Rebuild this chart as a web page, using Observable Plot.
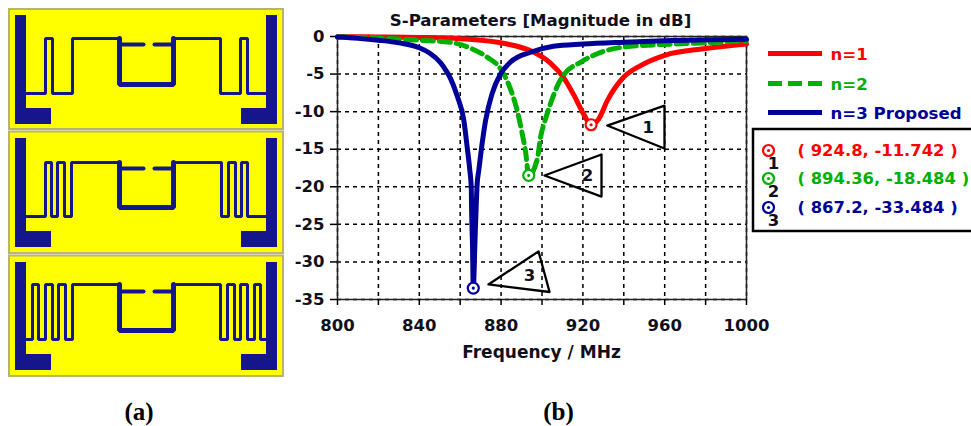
<!DOCTYPE html>
<html><head><meta charset="utf-8">
<script src="https://cdn.jsdelivr.net/npm/d3@7"></script>
<script src="https://cdn.jsdelivr.net/npm/@observablehq/plot@0.6"></script>
<style>
html,body{margin:0;padding:0;background:#fff}
#wrap{position:relative;width:971px;height:426px;overflow:hidden}
#wrap svg{position:absolute;left:0;top:0;background:transparent;max-width:none}
</style></head><body><div id="wrap"></div>
<script>
const FONT = "'DejaVu Sans', sans-serif";
const RED = "#ff0000", GREEN = "#00b000", BLUE = "#000099", INK = "#10101c";

// S-parameter curves: [MHz], [dB]
const freq1 = [800,820,840,860,883,896,904,910.4,915.6,920.5,924,927.7,932,940,948,960,980,1000];
const db1   = [-0.02,-0.05,-0.12,-0.3,-1,-2.1,-3.5,-5.4,-7.8,-10.4,-11.742,-11,-8.5,-5.4,-3.9,-2.5,-1.6,-1];
const freq2 = [800,820,840,855,865.9,873.2,879.7,884.6,887.9,890,892,893.5,897.7,899.3,901.7,905,908,910.4,919,927,940,960,980,1000];
const db2   = [-0.05,-0.2,-0.5,-0.76,-1.65,-2.75,-4.3,-7,-9.9,-12.5,-15.4,-18.484,-16.3,-13.4,-11,-8.3,-6.3,-5.2,-3.4,-2.3,-1.4,-1.05,-0.85,-0.55];
const freq3 = [800,810,820,830,840,845,850.4,853,855.3,858.5,861.8,863.4,864.7,865.4,865.6,866,866.4,867.2,867.7,868.3,869.1,870.7,872.4,875.6,879.7,884.6,894.4,905.6,920,940,960,1000];
const db3   = [-0.08,-0.25,-0.5,-0.85,-1.5,-2.2,-3.5,-4.5,-5.6,-7.9,-11.2,-14.7,-17.8,-20,-23.5,-27.5,-33.484,-27.5,-23.5,-19.6,-17.8,-14.3,-11.2,-7.6,-5,-3.4,-2.1,-1.3,-1,-0.75,-0.55,-0.35];

const peakFreq = [924, 893.5, 866.4];
const peakDb   = [-11.742, -18.484, -33.484];
const seriesNames = ["n=1", "n=2", "n=3 Proposed"];
const seriesColors = [RED, GREEN, BLUE];
const readouts = ["( 924.8, -11.742 )", "( 894.36, -18.484 )", "( 867.2, -33.484 )"];

// Callout triangles in chart units
const calloutLabels = ["1", "2", "3"];
const calloutFreq = [[931.9,959.9,959.9],[901.2,929.1,929.1],[873.8,898.3,903.7]];
const calloutDb   = [[-11.85,-9.2,-14.9],[-18.5,-15.7,-21.3],[-33,-28.6,-34]];
const calloutTextFreq = [952, 922.2, 893.9];
const calloutTextDb   = [-12.1, -18.5, -31.8];

const xGrid = d3.range(800, 1001, 20);
const yGrid = d3.range(-35, 1, 5);

const rows = (xs, ys) => xs.map((x, i) => ({x, y: ys[i]}));
const trianglePts = calloutFreq.flatMap((f, k) => f.map((x, i) => ({k, x, y: calloutDb[k][i]})));

const main = Plot.plot({
  width: 971, height: 426,
  marginLeft: 337, marginRight: 225, marginTop: 36, marginBottom: 127,
  style: {fontFamily: FONT, background: "transparent"},
  x: {domain: [800, 1000]},
  y: {domain: [-35, 0]},
  marks: [
    Plot.gridX(xGrid, {stroke: "#000", strokeOpacity: 1, strokeWidth: 1.5, strokeDasharray: "4,4"}),
    Plot.gridY(yGrid, {stroke: "#000", strokeOpacity: 1, strokeWidth: 1.5, strokeDasharray: "4,4"}),
    Plot.frame({stroke: "#222", strokeWidth: 1.5}),
    Plot.axisX(xGrid, {anchor: "bottom", label: null, tickSize: 6, tickPadding: 14, fontSize: 16.5, fontWeight: "bold", fill: INK, strokeWidth: 1.5,
      tickFormat: d => d % 40 === 0 ? String(d) : ""}),
    Plot.axisY(yGrid, {anchor: "left", label: null, tickSize: 7, tickPadding: 6, fontSize: 16.5, fontWeight: "bold", fill: INK, strokeWidth: 1.5,
      tickFormat: d => String(d)}),
    Plot.line(rows(freq1, db1), {x: "x", y: "y", stroke: RED, strokeWidth: 5, curve: "monotone-x"}),
    Plot.line(rows(freq2, db2), {x: "x", y: "y", stroke: GREEN, strokeWidth: 5, strokeDasharray: "11,6", curve: "monotone-x"}),
    Plot.line(rows(freq3, db3), {x: "x", y: "y", stroke: BLUE, strokeWidth: 5, curve: "monotone-x"}),
    Plot.dot(rows(peakFreq, peakDb), {x: "x", y: "y", r: 5.5, fill: "#fff", stroke: (d, i) => seriesColors[i], strokeWidth: 2.2}),
    Plot.dot(rows(peakFreq, peakDb), {x: "x", y: "y", r: 1.6, fill: (d, i) => seriesColors[i], stroke: "none"}),
    Plot.line(trianglePts, {x: "x", y: "y", z: "k", stroke: "#000", strokeWidth: 2.3, fill: "none",
      render(index, scales, values, dims, ctx, next) {
        const g = next(index, scales, values, dims, ctx);
        g.querySelectorAll("path").forEach(p => p.setAttribute("d", p.getAttribute("d") + "Z"));
        return g;
      }}),
    Plot.text(rows(calloutTextFreq, calloutTextDb), {x: "x", y: "y", text: (d, i) => calloutLabels[i], fontSize: 16.5, fontWeight: "bold", fill: INK})
  ]
});

// ---- Layout drawings and text outside the axes, on a page-pixel (identity) plot ----
const panelTop = [9, 131.5, 255.5];
const panelBottom = [129, 253, 376];
const LEFT = 9, RIGHT = 283, CX = 146;
const mirror = x => 2 * CX - x;

// Meander of each layout's left half: x, then y as 0 = lower run and 1 = upper run
const meanderX = [
  [26,45,45,52,52,72,72,118],
  [26,45,45,51,51,57,57,64,64,71,71,118],
  [26,32,32,38,38,45,45,52,52,58,58,65,65,72,72,118]
];
const meanderUp = [
  [0,0,1,1,0,0,1,1],
  [0,0,1,1,0,0,1,1,0,0,1,1],
  [0,0,1,1,0,0,1,1,0,0,1,1,0,0,1,1]
];
const yLower = [93, 216, 339];
const yUpper = [38, 162, 284];
const yBoxBottom = [84, 207, 330];
const yStub = [44, 168, 291];
const yLTop = [15, 138, 262];
const yLBottom = [124, 247, 370];
const yFootTop = [108, 231, 354];

const NAVY = "#16168c";
const panels = panelTop.map((t, i) => ({x1: LEFT, x2: RIGHT, y1: t, y2: panelBottom[i]}));
const blocks = [];
const traces = [], boxes = [], stubs = [];
panelTop.forEach((_, p) => {
  blocks.push({x1: 15, x2: 26, y1: yLTop[p], y2: yLBottom[p]}, {x1: 26, x2: 51, y1: yFootTop[p], y2: yLBottom[p]});
  blocks.push({x1: 266, x2: 277, y1: yLTop[p], y2: yLBottom[p]}, {x1: 241, x2: 266, y1: yFootTop[p], y2: yLBottom[p]});
  meanderX[p].forEach((x, i) => {
    const y = meanderUp[p][i] ? yUpper[p] : yLower[p];
    traces.push({k: p + "L", x, y});
  });
  [...meanderX[p].keys()].reverse().forEach(i => {
    const y = meanderUp[p][i] ? yUpper[p] : yLower[p];
    traces.push({k: p + "R", x: mirror(meanderX[p][i]), y});
  });
  boxes.push({k: p, x: 119, y: yUpper[p]}, {k: p, x: 119, y: yBoxBottom[p]}, {k: p, x: mirror(119), y: yBoxBottom[p]}, {k: p, x: mirror(119), y: yUpper[p]});
  stubs.push({k: p + "a", x: 121, y: yStub[p]}, {k: p + "a", x: 143, y: yStub[p]},
             {k: p + "b", x: mirror(143) + 5, y: yStub[p]}, {k: p + "b", x: mirror(121), y: yStub[p]});
});

const legendY = [53, 83, 112];
const readoutY = [150, 178, 207];

const overlay = Plot.plot({
  width: 971, height: 426, margin: 0,
  style: {fontFamily: FONT, background: "transparent"},
  x: {type: "identity", axis: null}, y: {type: "identity", axis: null},
  marks: [
    Plot.rect(panels, {x1: "x1", x2: "x2", y1: "y1", y2: "y2", fill: "#ffff00", stroke: "#b8b46c", strokeWidth: 2}),
    Plot.rect(blocks, {x1: "x1", x2: "x2", y1: "y1", y2: "y2", fill: NAVY}),
    Plot.line(traces, {x: "x", y: "y", z: "k", stroke: NAVY, strokeWidth: 3, strokeLinejoin: "miter"}),
    Plot.line(boxes, {x: "x", y: "y", z: "k", stroke: NAVY, strokeWidth: 5, strokeLinejoin: "miter"}),
    Plot.line(stubs, {x: "x", y: "y", z: "k", stroke: NAVY, strokeWidth: 4}),

    Plot.text(["S-Parameters [Magnitude in dB]"], {x: 540, y: 20, text: d => d, fontSize: 16.6, fontWeight: "bold", fill: INK}),
    Plot.text(["Frequency / MHz"], {x: 541, y: 352, text: d => d, fontSize: 17, fontWeight: "bold", fill: INK}),
    Plot.text(["(a)"], {x: 138.5, y: 411, text: d => d, fontSize: 25, fontWeight: "bold", fontFamily: "'Liberation Serif', serif", fill: "#000"}),
    Plot.text(["(b)"], {x: 558, y: 411, text: d => d, fontSize: 25, fontWeight: "bold", fontFamily: "'Liberation Serif', serif", fill: "#000"}),

    ...seriesNames.map((s, i) => Plot.ruleY([legendY[i]], {x1: 768, x2: 822, stroke: seriesColors[i], strokeWidth: 5, strokeDasharray: i === 1 ? "14,6" : null})),
    Plot.text(seriesNames, {x: 830, y: (d, i) => legendY[i] + 1, text: d => d, textAnchor: "start", fontSize: 16.6, fontWeight: "bold", fill: (d, i) => seriesColors[i]}),

    Plot.rect([0], {x1: 753, x2: 975, y1: 129, y2: 231, fill: "#fff", stroke: "#000", strokeWidth: 2.5}),
    Plot.dot(readouts, {x: 768, y: (d, i) => readoutY[i], r: 5.5, fill: "#fff", stroke: (d, i) => seriesColors[i], strokeWidth: 2.2}),
    Plot.dot(readouts, {x: 768, y: (d, i) => readoutY[i], r: 1.6, fill: (d, i) => seriesColors[i]}),
    Plot.text(calloutLabels, {x: 773, y: (d, i) => readoutY[i] + 13, text: d => d, fontSize: 16.5, fontWeight: "bold", fill: INK}),
    Plot.text(readouts, {x: 797, y: (d, i) => readoutY[i], text: d => d, textAnchor: "start", fontSize: 16.4, fontWeight: "bold", fill: (d, i) => seriesColors[i]})
  ]
});

const wrap = document.getElementById("wrap");
wrap.append(main, overlay);
</script></body></html>
